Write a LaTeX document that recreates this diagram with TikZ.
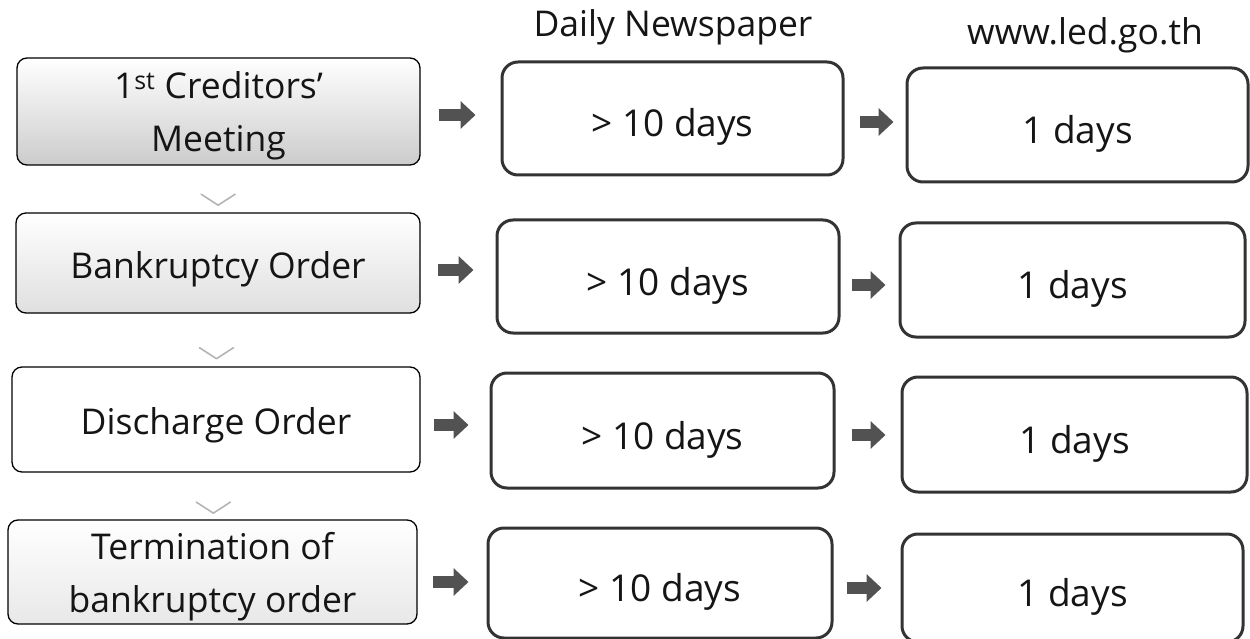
\documentclass[tikz,border=0pt]{standalone}
\usepackage{fontspec}
\setmainfont{Open Sans}
\usetikzlibrary{arrows.meta,calc}
\definecolor{boxline}{HTML}{333333}
\definecolor{arrowc}{HTML}{525252}
\definecolor{chevc}{HTML}{B4B4B4}
\definecolor{txt}{HTML}{151515}
\tikzset{
  lbox/.style={draw=black, line width=1.3pt, rounded corners=10pt, align=center,
    text=txt, font=\fontsize{35.5}{53}\selectfont, inner sep=0pt},
  lone/.style={lbox, text height=39pt, text depth=9pt},
  ltwo/.style={lbox, text height=90pt, text depth=10pt},
  dbox/.style={draw=boxline, line width=3pt, rounded corners=16pt, fill=white,
    text=txt, font=\fontsize{37}{42}\selectfont, inner sep=0pt,
    text height=46pt, text depth=9pt},
  head/.style={text=txt, font=\fontsize{35.5}{40}\selectfont, anchor=base, inner sep=0pt},
  blk/.style={draw=arrowc, line width=12pt, -{Triangle[width=27pt,length=15pt]}},
  chev/.style={draw=chevc, line width=1.6pt, line join=round, line cap=round},
}
\begin{document}
\begin{tikzpicture}[x=1pt,y=-1pt]
\useasboundingbox (0,0) rectangle (1250,639);
% left column
\node[ltwo, top color=white, bottom color=gray!40, minimum width=403pt, minimum height=107pt]
  (L1) at (218.5,111.5) {1\textsuperscript{st} Creditors’\\Meeting};
\node[lone, top color=white, bottom color=gray!25, minimum width=404pt, minimum height=100pt]
  (L2) at (218,263) {Bankruptcy Order};
\node[lone, fill=white, minimum width=408pt, minimum height=105pt]
  (L3) at (216,419.5) {Discharge Order};
\node[ltwo, top color=white, bottom color=gray!18, minimum width=409pt, minimum height=104pt]
  (L4) at (212.5,572) {Termination of\\bankruptcy order};
% middle column
\node[dbox, minimum width=341pt, minimum height=113pt] (M1) at (672.5,118.5) {> 10 days};
\node[dbox, minimum width=342pt, minimum height=113pt] (M2) at (668,276.5) {> 10 days};
\node[dbox, minimum width=343pt, minimum height=115pt] (M3) at (662.5,430.5) {> 10 days};
\node[dbox, minimum width=344pt, minimum height=110pt] (M4) at (660,583) {> 10 days};
% right column
\node[dbox, minimum width=341pt, minimum height=114pt] (R1) at (1077.5,125) {1 days};
\node[dbox, minimum width=345pt, minimum height=114pt] (R2) at (1072.5,280) {1 days};
\node[dbox, minimum width=345pt, minimum height=115pt] (R3) at (1074.5,434.5) {1 days};
\node[dbox, minimum width=341pt, minimum height=108pt] (R4) at (1072.5,588) {1 days};
% headers
\node[head] (H1) at (673,37) {Daily Newspaper};
\node[head] (H2) at (1085,45) {www.led.go.th};
% block arrows
\draw[blk, shorten <=18pt, shorten >=25pt] (L1.east |- 0,115) -- (M1.west |- 0,115);
\draw[blk, shorten <=15pt, shorten >=12pt] (M1.east |- 0,122) -- (R1.west |- 0,122);
\draw[blk, shorten <=17pt, shorten >=22pt] (L2.east |- 0,270) -- (M2.west |- 0,270);
\draw[blk, shorten <=11pt, shorten >=13pt] (M2.east |- 0,285) -- (R2.west |- 0,285);
\draw[blk, shorten <=13pt, shorten >=21pt] (L3.east |- 0,425) -- (M3.west |- 0,425);
\draw[blk, shorten <=16pt, shorten >=15pt] (M3.east |- 0,435) -- (R3.west |- 0,435);
\draw[blk, shorten <=15pt, shorten >=18pt] (L4.east |- 0,582) -- (M4.west |- 0,582);
\draw[blk, shorten <=13pt, shorten >=19pt] (M4.east |- 0,588) -- (R4.west |- 0,588);
% chevrons between left boxes
\coordinate (c1) at ($(L1.south)!0.74!(L2.north)$);
\coordinate (c2) at ($(L2.south)!0.76!(L3.north)$);
\coordinate (c3) at ($(L3.south)!0.76!(L4.north)$);
\draw[chev] (c1) ++(-17,-6) -- ++(17,11) -- ++(17,-11);
\draw[chev] (c2) ++(-17,-6) -- ++(17,11) -- ++(17,-11);
\draw[chev] (c3) ++(-17,-6) -- ++(17,11) -- ++(17,-11);
\end{tikzpicture}
\end{document}
